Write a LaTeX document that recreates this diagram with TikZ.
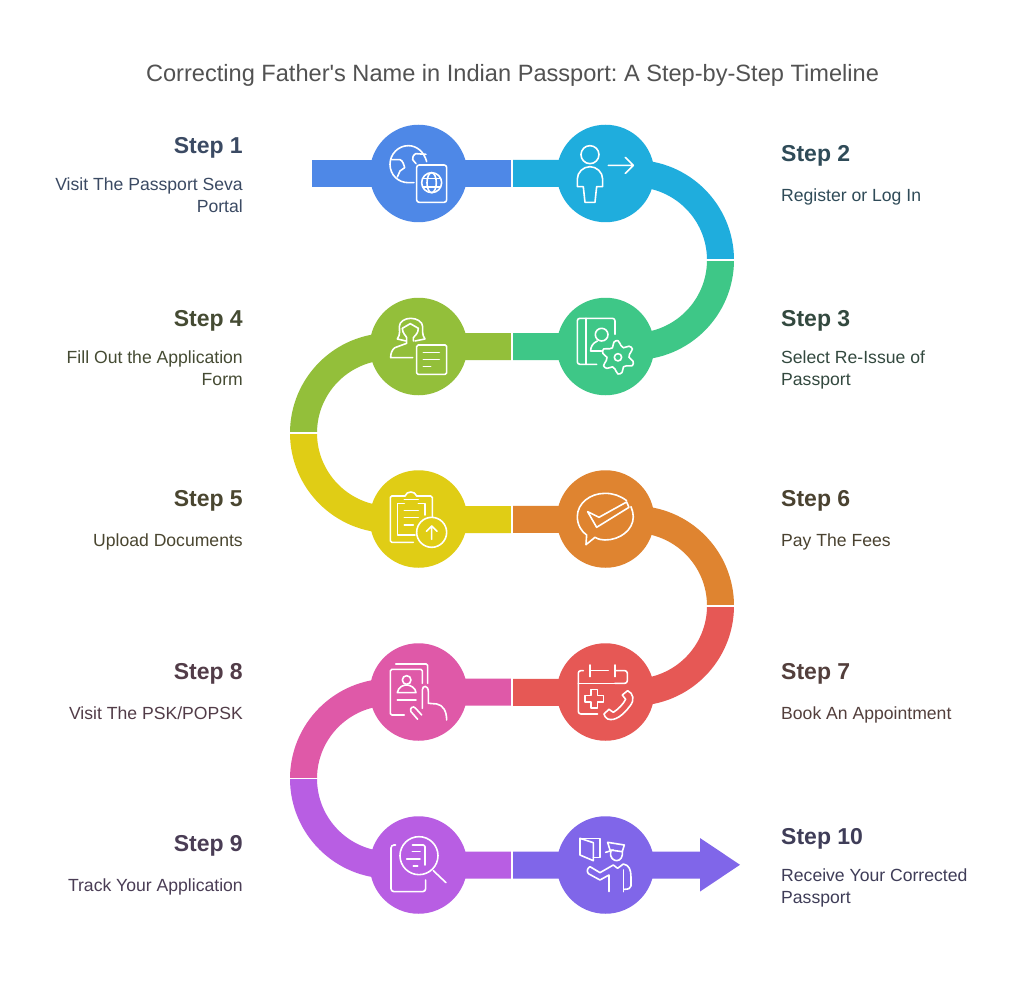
\documentclass[tikz,border=0pt]{standalone}
\usepackage{fontspec}
\setmainfont{Liberation Sans}
\newfontfamily\titlefont{Liberation Sans}
\definecolor{c1}{HTML}{4E88E7}\definecolor{c2}{HTML}{1FADDD}\definecolor{c3}{HTML}{3EC787}\definecolor{c4}{HTML}{93BF3A}\definecolor{c5}{HTML}{E0CD15}
\definecolor{c6}{HTML}{DF8430}\definecolor{c7}{HTML}{E65855}\definecolor{c8}{HTML}{DF59A8}\definecolor{c9}{HTML}{B85EE3}\definecolor{c10}{HTML}{8066E9}
\definecolor{t1}{HTML}{3B4A63}\definecolor{t2}{HTML}{2F4B58}\definecolor{t3}{HTML}{33493F}\definecolor{t4}{HTML}{454B33}\definecolor{t5}{HTML}{4A4630}
\definecolor{t6}{HTML}{4A4230}\definecolor{t7}{HTML}{533F3C}\definecolor{t8}{HTML}{523C48}\definecolor{t9}{HTML}{4A3D55}\definecolor{t10}{HTML}{3F3D58}
\tikzset{
 disc/.style={circle,inner sep=0pt,minimum size=97.5pt,fill=#1},
 head/.style={font=\fontsize{23}{27}\selectfont\bfseries,inner sep=0pt},
 body/.style={font=\fontsize{17.6}{22}\selectfont,inner sep=0pt},
 lhead/.style={head,anchor=east},
 rhead/.style={head,anchor=west},
 lbody/.style={body,anchor=north east,align=right},
 rbody/.style={body,anchor=north west,align=left},
 icon/.style={draw=white,line width=1.6pt,line cap=round,line join=round,fill=none},
 zoomA/.style={shift={(300,115)},x=0.3333pt,y=-0.3333pt},
 zoomB/.style={shift={(285,400)},x=0.3333pt,y=-0.3333pt},
 zoomC/.style={shift={(285,750)},x=0.3333pt,y=-0.3333pt},
 seam/.style={fill=white},
}
\begin{document}
\begin{tikzpicture}[x=1pt,y=-1pt]
\useasboundingbox (0,0) rectangle (1024,981);
\fill[white] (0,0) rectangle (1024,981);
% segments
\fill[c1] (311.7,160) rectangle (512,187);
\fill[c2] (512,160) -- (634,160) arc[start angle=-90,end angle=0,radius=100] -- (707,260) arc[start angle=0,end angle=-90,radius=73] -- (512,187) -- cycle;
\fill[c3] (734,260) arc[start angle=0,end angle=90,radius=100] -- (512,360) -- (512,333) -- (634,333) arc[start angle=90,end angle=0,radius=73] -- cycle;
\fill[c4] (512,333) -- (390,333) arc[start angle=-90,end angle=-180,radius=100] -- (317,433) arc[start angle=180,end angle=270,radius=73] -- (512,360) -- cycle;
\fill[c5] (290,433) arc[start angle=180,end angle=90,radius=100] -- (512,533) -- (512,506) -- (390,506) arc[start angle=90,end angle=180,radius=73] -- cycle;
\fill[c6] (512,505.8) -- (634,505.8) arc[start angle=-90,end angle=0,radius=100] -- (707,605.8) arc[start angle=0,end angle=-90,radius=73] -- (512,532.8) -- cycle;
\fill[c7] (734,605.8) arc[start angle=0,end angle=90,radius=100] -- (512,705.8) -- (512,678.8) -- (634,678.8) arc[start angle=90,end angle=0,radius=73] -- cycle;
\fill[c8] (512,678.6) -- (390,678.6) arc[start angle=-90,end angle=-180,radius=100] -- (317,778.6) arc[start angle=180,end angle=270,radius=73] -- (512,705.6) -- cycle;
\fill[c9] (290,778.6) arc[start angle=180,end angle=90,radius=100] -- (512,878.6) -- (512,851.6) -- (390,851.6) arc[start angle=90,end angle=180,radius=73] -- cycle;
\fill[c10] (512,851.5) -- (700,851.5) -- (700,838) -- (740,864.8) -- (700,891.5) -- (700,878.5) -- (512,878.5) -- cycle;
% white seams between segments
\fill[seam] (511,155) rectangle (513,192);
\fill[seam] (511,328) rectangle (513,365);
\fill[seam] (511,500) rectangle (513,538);
\fill[seam] (511,673) rectangle (513,711);
\fill[seam] (511,846) rectangle (513,884);
\fill[seam] (700,259.2) rectangle (740,260.8);
\fill[seam] (285,432.2) rectangle (325,433.8);
\fill[seam] (700,605) rectangle (740,606.6);
\fill[seam] (285,777.8) rectangle (325,779.4);
% discs
\node[disc=c1] (d1) at (418.5,173.5) {};
\node[disc=c2] (d2) at (605.5,173.5) {};
\node[disc=c3] (d3) at (605.5,346.5) {};
\node[disc=c4] (d4) at (418.5,346.5) {};
\node[disc=c5] (d5) at (418.5,519) {};
\node[disc=c6] (d6) at (605.5,519) {};
\node[disc=c7] (d7) at (605.5,692) {};
\node[disc=c8] (d8) at (418.5,692) {};
\node[disc=c9] (d9) at (418.5,865) {};
\node[disc=c10] (d10) at (605.5,865) {};
% title
\node[inner sep=0pt,text=black!68,font=\fontsize{23.6}{28}\selectfont\titlefont\frenchspacing] (title) at (512.5,75.5) {Correcting Father's Name in Indian Passport: A Step-by-Step Timeline};
% labels
\node[lhead,text=t1] (s1) at (243,148) {Step 1};
\node[lbody,text=t1] (b1) at (243,178) {Visit The Passport Seva\\Portal};
\node[rhead,text=t2] (s2) at (781,156) {Step 2};
\node[rbody,text=t2] (b2) at (781,189) {Register or Log In};
\node[rhead,text=t3] (s3) at (781,321) {Step 3};
\node[rbody,text=t3] (b3) at (781,351) {Select Re-Issue of\\Passport};
\node[lhead,text=t4] (s4) at (243,321) {Step 4};
\node[lbody,text=t4] (b4) at (243,351) {Fill Out the Application\\Form};
\node[lhead,text=t5] (s5) at (243,501) {Step 5};
\node[lbody,text=t5] (b5) at (243,534) {Upload Documents};
\node[rhead,text=t6] (s6) at (781,501) {Step 6};
\node[rbody,text=t6] (b6) at (781,534) {Pay The Fees};
\node[rhead,text=t7] (s7) at (781,674) {Step 7};
\node[rbody,text=t7] (b7) at (781,707) {Book An Appointment};
\node[lhead,text=t8] (s8) at (243,674) {Step 8};
\node[lbody,text=t8] (b8) at (243,707) {Visit The PSK/POPSK};
\node[lhead,text=t9] (s9) at (243,846) {Step 9};
\node[lbody,text=t9] (b9) at (243,879) {Track Your Application};
\node[rhead,text=t10] (s10) at (781,839) {Step 10};
\node[rbody,text=t10] (b10) at (781,869) {Receive Your Corrected\\Passport};
% icons row 1-4
\begin{scope}[zoomA,icon]
 % 1 globe + passport
 \draw (380,140) .. controls (372,110) and (350,92) .. (325,92) .. controls (295,92) and (270,117) .. (270,148) .. controls (270,180) and (295,203) .. (325,203) -- (342,203);
 \draw (275,134) -- (300,134) .. controls (308,136) and (312,150) .. (314,158) -- (300,168) -- (292,186);
 \draw (378,118) -- (347,116) .. controls (338,122) and (338,128) .. (338,134) -- (348,146);
 \draw[rounded corners=2.5pt] (350,150) rectangle (440,262);
 \draw (395,203) circle[radius=30];
 \draw (395,203) ellipse[x radius=14,y radius=30];
 \draw (369,190) -- (421,190) (369,216) -- (421,216);
 % 2 person + arrow
 \draw (870,119) circle[radius=27];
 \draw (832,215) -- (832,192) .. controls (832,172) and (850,155) .. (870,155) .. controls (890,155) and (908,172) .. (908,192) -- (908,215) -- (890,215) -- (885,262) -- (855,262) -- (850,215) -- cycle;
 \draw (925,151) -- (1000,151) (976,127) -- (1000,151) -- (976,175);
 % 3 book + gear
 \draw[rounded corners=2.5pt] (945,658) -- (945,610) -- (832,610) -- (832,748) -- (890,748);
 \draw (858,610) -- (858,748);
 \draw (905,659) circle[radius=19];
 \draw (892,678) .. controls (878,685) and (872,695) .. (872,708) -- (905,708);
 \begin{scope}[shift={(954,727)}]
  \draw (0,0) circle[radius=11];
  \draw plot[smooth cycle,tension=.55] coordinates {(90:50)(75:47)(60:33)(45:36)(30:50)(15:47)(0:33)(-15:36)(-30:50)(-45:47)(-60:33)(-75:36)(-90:50)(-105:47)(-120:33)(-135:36)(-150:50)(-165:47)(180:33)(165:36)(150:50)(135:47)(120:33)(105:36)};
 \end{scope}
 % 4 woman + form
 \draw (318,678) -- (292,672) .. controls (302,660) and (298,640) .. (298,635) .. controls (298,620) and (315,610) .. (332,610) .. controls (350,610) and (368,620) .. (368,635) .. controls (368,640) and (365,660) .. (375,672) -- (345,678);
 \draw (307,640) -- (331,626) -- (355,640) .. controls (355,655) and (345,662) .. (340,668) -- (340,678);
 \draw (307,640) .. controls (307,655) and (318,662) .. (320,668) -- (320,685) -- (285,698) .. controls (276,704) and (272,715) .. (272,728) -- (338,728);
 \draw[rounded corners=1.5pt] (350,690) rectangle (440,778);
 \draw (370,712) -- (418,712) (370,733) -- (418,733) (370,755) -- (392,755);
\end{scope}
\begin{scope}[zoomB,icon]
 % 5 clipboard
 \draw[rounded corners=1.5pt] (385,427) -- (316,427) -- (316,288) -- (360,288);
 \draw (360,288) .. controls (365,272) and (390,272) .. (395,288);
 \draw[rounded corners=1.5pt] (395,288) -- (442,288) -- (442,350);
 \draw (338,405) -- (390,405) (338,405) -- (338,310) -- (358,310) (400,310) -- (420,310) -- (420,345);
 \draw (358,298) -- (400,298);
 \draw (358,332) -- (400,332) (358,353) -- (400,353) (358,375) -- (385,375);
 \draw (440,397) circle[radius=45];
 \draw (440,418) -- (440,378) (424,394) -- (440,378) -- (456,394);
 % 6 chat check
 \draw (1025,302) .. controls (1005,287) and (985,280) .. (960,280) .. controls (915,280) and (877,310) .. (877,350) .. controls (877,375) and (890,395) .. (905,405) -- (903,434) -- (930,412) .. controls (940,418) and (950,420) .. (960,420) .. controls (1005,420) and (1045,390) .. (1045,350) .. controls (1045,340) and (1042,330) .. (1038,320);
 \draw (1025,306) -- (942,352) -- (908,335) -- (935,382) -- (1032,322) -- cycle;
 % 7 calendar phone cross
 \draw[rounded corners=2.5pt] (938,942) -- (880,942) -- (880,812) -- (895,812);
 \draw (915,795) -- (915,830) (915,812) -- (970,812) (990,795) -- (990,830);
 \draw[rounded corners=2.5pt] (990,812) -- (1027,812) -- (1027,850) -- (990,850);
 \draw (990,850) -- (880,850);
 \draw (918,868) -- (938,868) -- (938,886) -- (956,886) -- (956,906) -- (938,906) -- (938,924) -- (918,924) -- (918,906) -- (900,906) -- (900,886) -- (918,886) -- cycle;
 \draw (1012,885) -- (1028,872) .. controls (1045,880) and (1050,900) .. (1035,918) .. controls (1015,945) and (990,965) .. (968,957) .. controls (962,953) and (958,948) .. (957,942) -- (972,928) -- (985,937) .. controls (1000,928) and (1015,912) .. (1022,898) -- cycle;
 % 8 hand document
 \draw[rounded corners=1.5pt] (332,792) -- (428,792) -- (428,850);
 \draw[rounded corners=1.5pt] (358,945) -- (316,945) -- (316,808) -- (412,808) -- (412,850);
 \draw (365,840) circle[radius=13];
 \draw (337,878) .. controls (340,860) and (355,855) .. (365,855) .. controls (378,855) and (392,865) .. (393,878) -- cycle;
 \draw (337,900) -- (393,900);
 \draw (412,925) -- (412,870) .. controls (412,855) and (430,855) .. (430,875) -- (430,910) -- (455,912) .. controls (475,915) and (485,935) .. (485,960);
 \draw (398,958) -- (378,935) .. controls (372,925) and (385,915) .. (392,925) -- (410,945);
\end{scope}
\begin{scope}[zoomC,icon]
 % 9 magnifier
 \draw[rounded corners=3pt] (332,285) -- (318,285) -- (318,425) -- (422,425) -- (422,390);
 \draw (402,317) circle[radius=57];
 \draw (445,362) -- (483,398);
 \draw[rounded corners=1.5pt] (382,285) -- (420,285) -- (420,345);
 \draw (382,305) -- (405,305) (365,327) -- (405,327) (385,348) -- (398,348);
 % 10 officer
 \draw (885,265) -- (945,265) -- (945,323) -- (925,323);
 \draw (885,265) -- (885,315) -- (925,332) -- (925,278) -- cycle;
 \draw (968,277) -- (1018,285) -- (1012,305) -- (975,300) -- cycle;
 \draw (962,307) -- (985,300);
 \draw (978,303) .. controls (972,325) and (988,332) .. (995,332) .. controls (1008,332) and (1014,318) .. (1012,305);
 \draw (915,350) -- (945,368) -- (985,345) -- (998,355) -- (1015,342) .. controls (1033,345) and (1038,360) .. (1038,380) -- (1038,408) .. controls (1038,415) and (1030,418) .. (1018,418);
 \draw (915,350) .. controls (905,355) and (905,368) .. (912,372) -- (945,390) -- (972,375) -- (972,425);
 \draw (1015,425) -- (1015,360);
\end{scope}
\end{tikzpicture}
\end{document}
